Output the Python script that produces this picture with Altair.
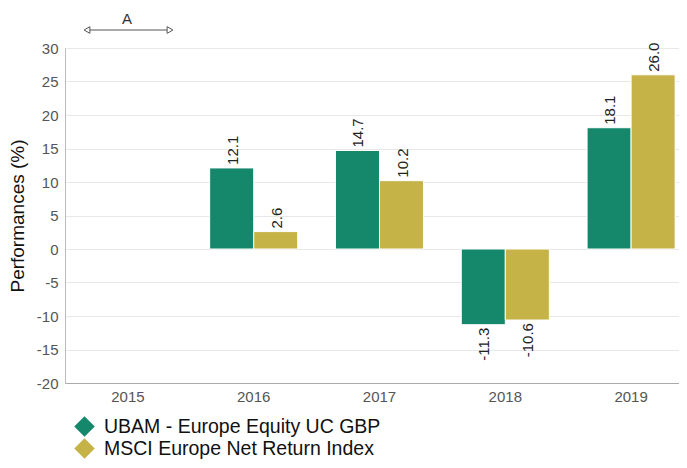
import altair as alt
import pandas as pd

years = ["2015", "2016", "2017", "2018", "2019"]
series_names = ["UBAM - Europe Equity UC GBP", "MSCI Europe Net Return Index"]
ubam = [None, 12.1, 14.7, -11.3, 18.1]
msci = [None, 2.6, 10.2, -10.6, 26.0]
colors = ["#15876A", "#C5B348"]
y_ticks = [-20, -15, -10, -5, 0, 5, 10, 15, 20, 25, 30]
annotation_label = ["A"]

rows = []
for yr, u, m in zip(years, ubam, msci):
    rows.append({"year": yr, "series": series_names[0], "value": u})
    rows.append({"year": yr, "series": series_names[1], "value": m})
df = pd.DataFrame(rows)

FONT = "Liberation Sans"

x_enc = alt.X("year:N", scale=alt.Scale(domain=years, range=[0, 629], paddingInner=0.3, paddingOuter=0.15),
              axis=alt.Axis(title=None, labelAngle=0, ticks=False, labelPadding=6, labelFontSize=15,
                            labelColor="#555555", labelFont=FONT, domainColor="#aaaaaa", grid=False))
y_enc = alt.Y("value:Q", scale=alt.Scale(domain=[-20, 30], nice=False, zero=False),
              axis=alt.Axis(title="Performances (%)", values=y_ticks, ticks=False, labelPadding=7,
                            labelFontSize=15, labelColor="#555555", labelFont=FONT,
                            labelExpr="'' + datum.value", labelOverlap=False,
                            titleFont=FONT, titleFontSize=19, titleFontWeight="normal",
                            titleColor="#111111", titleX=-48, titleBaseline="middle",
                            domainColor="#bbbbbb", gridColor="#e8e8e8"))
xoff = alt.XOffset("series:N", scale=alt.Scale(domain=series_names, paddingInner=0, paddingOuter=0))
color_enc = alt.Color("series:N", scale=alt.Scale(domain=series_names, range=colors),
                      legend=alt.Legend(orient="none", legendX=9, legendY=368, direction="vertical",
                                        symbolType="diamond", symbolSize=420, labelFontSize=19.5,
                                        labelFont=FONT, labelColor="#111111", title=None,
                                        rowPadding=1, labelOffset=9, symbolStrokeWidth=0,
                                        labelLimit=0))

base = alt.Chart(df)

bars = base.mark_bar(stroke="white", strokeWidth=1).encode(
    x=x_enc, y=y_enc, xOffset=xoff, color=color_enc
)

pos_text = base.transform_filter("datum.value > 0").transform_calculate(
    label="replace(format(datum.value, '.1f'), '\u2212', '-')"
).mark_text(
    angle=270, align="left", baseline="middle", dx=3, dy=1, fontSize=15, font=FONT, color="#222222"
).encode(x=x_enc, y=y_enc, xOffset=xoff, text=alt.Text("label:N"))

neg_text = base.transform_filter("datum.value < 0").transform_calculate(
    label="replace(format(datum.value, '.1f'), '\u2212', '-')"
).mark_text(
    angle=270, align="right", baseline="middle", dx=-3, dy=1, fontSize=15, font=FONT, color="#222222"
).encode(x=x_enc, y=y_enc, xOffset=xoff, text=alt.Text("label:N"))

ann_df = pd.DataFrame({"label": annotation_label})
ann = alt.Chart(ann_df)
ann_text = ann.mark_text(fontSize=15, font=FONT, color="#333333", baseline="middle").encode(
    x=alt.value(62), y=alt.value(-29), text="label:N")
ann_line = ann.mark_rule(color="#555555", strokeWidth=1).encode(
    x=alt.value(21), x2=alt.value(106), y=alt.value(-18))
ann_left = ann.mark_point(shape="triangle-left", filled=True, fill="white", stroke="#555555",
                          strokeWidth=1, size=45, opacity=1).encode(x=alt.value(22), y=alt.value(-18))
ann_right = ann.mark_point(shape="triangle-right", filled=True, fill="white", stroke="#555555",
                           strokeWidth=1, size=45, opacity=1).encode(x=alt.value(105), y=alt.value(-18))

chart = alt.layer(bars, pos_text, neg_text, ann_line, ann_left, ann_right, ann_text).properties(
    width=614, height=335,
    autosize=alt.AutoSizeParams(type="none"),
    padding={"left": 57, "top": 40, "right": 0, "bottom": 77},
).configure_view(stroke=None).configure(font=FONT)

chart.save("out.html", embed_options={"renderer": "svg", "actions": False})
